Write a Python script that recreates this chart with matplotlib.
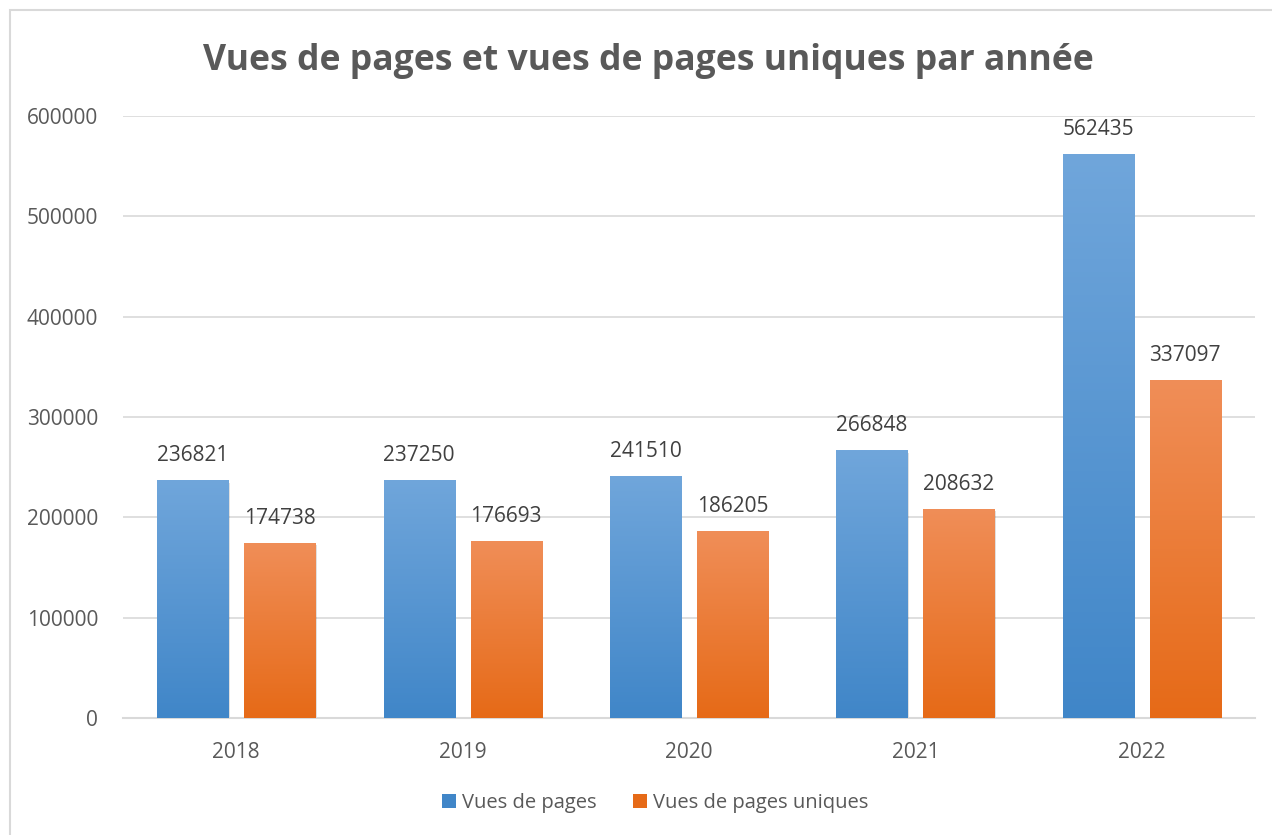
import matplotlib
matplotlib.use('Agg')
import matplotlib.pyplot as plt
import numpy as np
from matplotlib.patches import Rectangle
from matplotlib.colors import LinearSegmentedColormap

# Data
years = ['2018', '2019', '2020', '2021', '2022']
vues_pages = [236821, 237250, 241510, 266848, 562435]
vues_uniques = [174738, 176693, 186205, 208632, 337097]
series_names = ['Vues de pages', 'Vues de pages uniques']

plt.rcParams['font.family'] = ['Open Sans', 'DejaVu Sans']
text_col = '#595959'
grid_col = '#D9D9D9'

blue_top, blue_bot = '#70A6DB', '#4086C8'
orange_top, orange_bot = '#F08E58', '#E66A17'

fig = plt.figure(figsize=(12.72, 8.35), dpi=100)
ax = fig.add_axes([0.0967, 0.1401, 0.8899, 0.7209])

# chart frame (only top and left edges visible in the screenshot)
fig.patches.append(Rectangle((10 / 1272, -0.1), 1.2, (835 - 10) / 835 + 0.1,
                             transform=fig.transFigure, fill=False,
                             edgecolor=grid_col, linewidth=1.5))

x = np.arange(len(years))
w = 0.314
off = 0.192


def gradient_bars(xs, vals, top, bot):
    cmap = LinearSegmentedColormap.from_list('g', [bot, top])
    grad = np.linspace(0, 1, 256).reshape(-1, 1)
    bars = ax.bar(xs, vals, width=w, color=bot, zorder=3)
    for b in bars:
        bx, by = b.get_x(), b.get_y()
        bw, bh = b.get_width(), b.get_height()
        # soft shadow
        ax.add_patch(Rectangle((bx + 0.006, by - 2500), bw, bh, facecolor='#000000',
                               alpha=0.12, edgecolor='none', zorder=2))
        im = ax.imshow(grad, extent=[bx, bx + bw, by, by + bh], origin='lower',
                       cmap=cmap, aspect='auto', zorder=4)
        im.set_clip_path(b)
    return bars


b1 = gradient_bars(x - off, vues_pages, blue_top, blue_bot)
b2 = gradient_bars(x + off, vues_uniques, orange_top, orange_bot)

for xs, vals in ((x - off, vues_pages), (x + off, vues_uniques)):
    for xi, v in zip(xs, vals):
        ax.text(xi, v + 14000, str(v), ha='center', va='bottom',
                fontsize=15, color='#404040', zorder=5)

ax.set_xlim(-0.5, len(years) - 0.5)
ax.set_ylim(0, 600000)
ax.set_yticks(np.arange(0, 600001, 100000))
ax.set_yticklabels([str(v) for v in range(0, 600001, 100000)])
ax.set_xticks(x)
ax.set_xticklabels(years)
ax.tick_params(axis='both', length=0, labelsize=15, labelcolor=text_col)
ax.tick_params(axis='y', pad=18)
ax.tick_params(axis='x', pad=17)
ax.grid(axis='y', color=grid_col, linewidth=1.2, zorder=0)
ax.set_axisbelow(True)
for s in ['top', 'right', 'left']:
    ax.spines[s].set_visible(False)
ax.spines['bottom'].set_color(grid_col)
ax.spines['bottom'].set_linewidth(1.5)

fig.text(0.5094, 0.927, 'Vues de pages et vues de pages uniques par année',
         ha='center', va='center', fontsize=25.6, fontweight='bold', color=text_col)

handles = [Rectangle((0, 0), 1, 1, facecolor=blue_bot),
           Rectangle((0, 0), 1, 1, facecolor=orange_bot)]
fig.legend(handles, series_names, loc='center', bbox_to_anchor=(0.515, 0.038),
           ncol=2, frameon=False, fontsize=14.5, labelcolor=text_col,
           handlelength=0.7, handleheight=0.7, handletextpad=0.3, columnspacing=1.8)

fig.savefig('out.png', dpi=100, facecolor='white')
